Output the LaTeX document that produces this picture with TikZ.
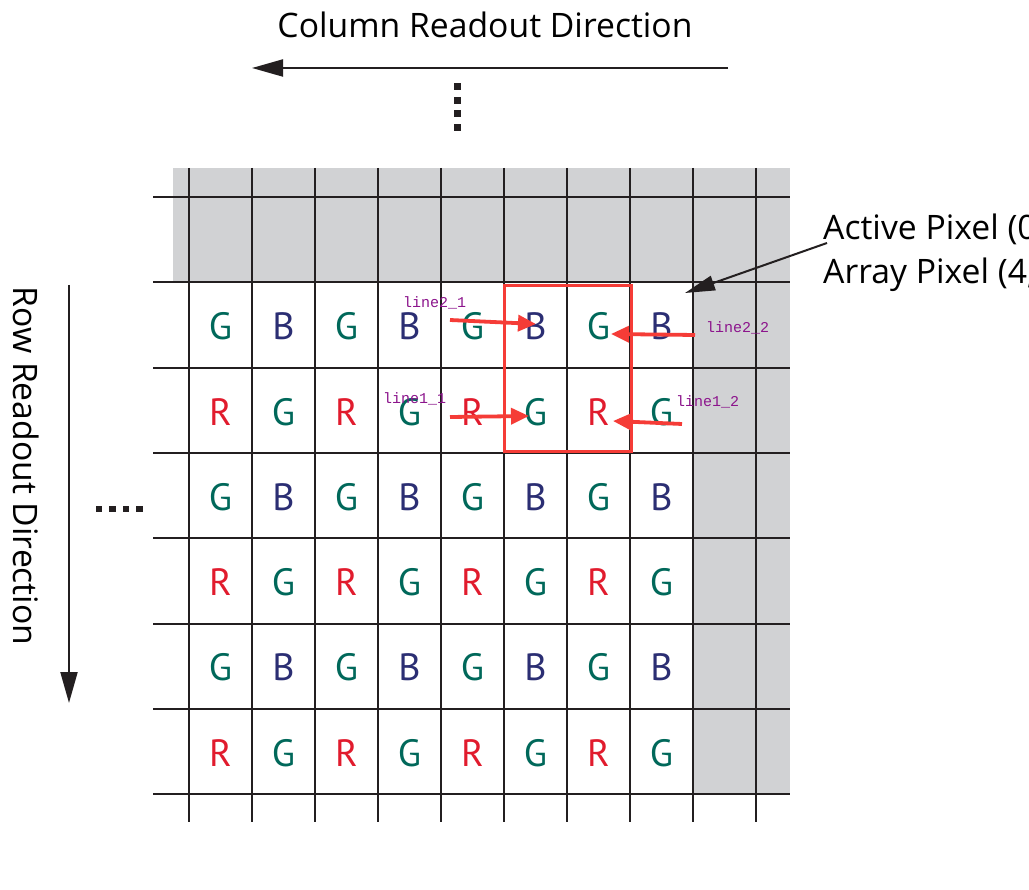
\documentclass[tikz,border=0pt]{standalone}
\usepackage{fontspec}
\setmainfont{PT Sans}
\newfontfamily\bigf{Open Sans}
\newfontfamily\monof{Liberation Mono}
\usetikzlibrary{arrows.meta}
\definecolor{gridc}{RGB}{35,31,32}
\definecolor{greyc}{RGB}{209,210,212}
\definecolor{gcol}{RGB}{0,104,90}
\definecolor{bcol}{RGB}{43,46,115}
\definecolor{rcol}{RGB}{225,27,45}
\definecolor{redbox}{RGB}{245,60,55}
\definecolor{purp}{RGB}{140,20,140}
\begin{document}
\begin{tikzpicture}[x=1pt,y=-1pt,
  gridline/.style={draw=gridc,line width=2pt},
  bayer/.style={font=\fontsize{38}{38}\selectfont,inner sep=0pt},
  lbl/.style={font=\monof\fontsize{15}{15}\selectfont,text=purp,inner sep=0pt},
  bigtext/.style={font=\bigf\fontsize{33.7}{33.7}\selectfont,inner sep=0pt},
  blackarrow/.style={draw=gridc,line width=2pt,-{Triangle[length=31pt,width=17pt]}},
  pointer/.style={draw=gridc,line width=2pt,-{Triangle[length=30pt,width=15pt]}},
  redarrow/.style={draw=redbox,line width=3.8pt,-{Triangle[length=18pt,width=16pt]}},
  dotsq/.style={fill=gridc}]
\useasboundingbox (0,0) rectangle (1029,890);
\fill[white] (0,0) rectangle (1029,890);
% grey margins
\fill[greyc] (173,168) rectangle (790,283);
\fill[greyc] (694,168) rectangle (790,794);
% grid
\foreach \i in {0,...,9} \draw[gridline] (189+63*\i,168) -- (189+63*\i,822);
\foreach \j in {0,...,7} \draw[gridline] (153,197+85.3*\j) -- (790,197+85.3*\j);
% bayer letters
\foreach \r in {1,...,6}{
  \foreach \c in {1,...,8}{
    \pgfmathsetmacro\cx{189+63*(\c-0.5)}
    \pgfmathsetmacro\cy{197+85.3*(\r+0.5)+1.5}
    \ifodd\r\relax
      \ifodd\c\relax \def\lt{G}\def\lc{gcol}\else \def\lt{B}\def\lc{bcol}\fi
    \else
      \ifodd\c\relax \def\lt{R}\def\lc{rcol}\else \def\lt{G}\def\lc{gcol}\fi
    \fi
    \node[bayer,text=\lc] (L\r\c) at (\cx,\cy) {\lt};
  }
}
% red window
\draw[redbox,line width=3pt] (504,286) rectangle (631,452);
% red arrows and labels
\coordinate (s21) at (450,320); \coordinate (t21) at (536,324);
\coordinate (s22) at (695,335); \coordinate (t22) at (611,334);
\coordinate (s11) at (450,417); \coordinate (t11) at (529,416);
\coordinate (s12) at (682,424); \coordinate (t12) at (613,421);
\draw[redarrow] (s21) -- (t21);
\draw[redarrow] (s22) -- (t22);
\draw[redarrow] (s11) -- (t11);
\draw[redarrow] (s12) -- (t12);
\node[lbl,anchor=base west] (l21) at (403,308) {line2\_1};
\node[lbl,anchor=base west] (l22) at (706,333) {line2\_2};
\node[lbl,anchor=base west] (l11) at (383,404) {line1\_1};
\node[lbl,anchor=base west] (l12) at (676,407) {line1\_2};
% column readout
\node[bigtext,anchor=base] (title) at (485,38) {Column Readout Direction};
\coordinate (cs) at (728,68); \coordinate (ce) at (252,68);
\draw[blackarrow] (cs) -- (ce);
\foreach \y in {87,100.5,114,128} \fill[dotsq] (453.5,\y-3.5) rectangle (460.5,\y+3.5);
% row readout
\node[bigtext,rotate=-90] (rowt) at (26,466) {Row Readout Direction};
\coordinate (rs) at (69,285); \coordinate (re) at (69,703);
\draw[blackarrow] (rs) -- (re);
\foreach \x in {99,112.5,126,139.5} \fill[dotsq] (\x-3.3,505.7) rectangle (\x+3.3,512.3);
% active pixel labels
\node[bigtext,anchor=base west] (act) at (823,240) {Active Pixel (0};
\node[bigtext,anchor=base west] (arr) at (823,284) {Array Pixel (4,};
\coordinate (ps) at (827,243); \coordinate (pt) at (685,293);
\draw[pointer] (ps) -- (pt);
\end{tikzpicture}
\end{document}
